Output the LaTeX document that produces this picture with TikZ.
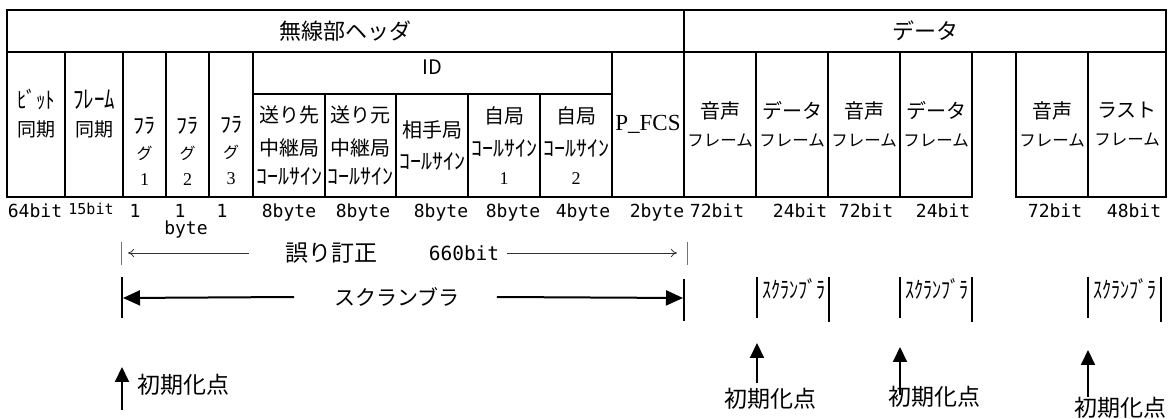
\documentclass[tikz,border=0pt]{standalone}
\usepackage{fontspec}
\setmainfont{Noto Sans CJK JP}
\newfontfamily\romanfont{Liberation Serif}
\newfontfamily\bitfont{DejaVu Sans Mono}
\usetikzlibrary{arrows.meta}
% half-width kana, stretched in height
\newcommand{\narrowkana}[3][1]{\scalebox{1}[#1]{\fontsize{#2}{#2}\selectfont #3}}

\begin{document}
\begin{tikzpicture}[x=1pt, y=-1pt,
  cell/.style={draw, line width=1.6pt, inner sep=0pt, align=center,
    font=\fontsize{20}{28}\selectfont},
  framecell/.style={cell, minimum width=72, minimum height=145,
    font=\fontsize{16.5}{28}\selectfont},
  celltext/.style={inner sep=0pt, align=center},
  sizelabel/.style={inner sep=0pt, anchor=base, font=\bitfont\fontsize{18}{18}\selectfont},
  notetext/.style={inner sep=0pt, font=\fontsize{23}{23}\selectfont},
  smallscr/.style={inner sep=0pt, font=\fontsize{18}{18}\selectfont},
  bar/.style={line width=1.6pt},
  thinbar/.style={line width=1pt, black!55},
  ecarrow/.style={line width=0.8pt, black!80, -{To[length=6pt,width=8pt]}},
  scrarrow/.style={line width=2pt, -{Triangle[length=17pt,width=15pt]}},
  initarrow/.style={line width=2pt, -{Triangle[length=15pt,width=14pt]}}
]
\useasboundingbox (0,0) rectangle (1168,419);

% top row
\node[cell, minimum width=677, minimum height=42, font=\fontsize{22}{22}\selectfont] (radiohdr) at (345.5,31) {無線部ヘッダ};
\node[cell, minimum width=482, minimum height=42, font=\fontsize{22}{22}\selectfont] (datahdr) at (925,31) {データ};

% header fields
\node[cell, minimum width=58, minimum height=145] (bitsync) at (36,124.5) {};
\node[cell, minimum width=58, minimum height=145] (framesync) at (94,124.5) {};
\node[cell, minimum width=43, minimum height=145] (flag1) at (144.5,124.5) {};
\node[cell, minimum width=43, minimum height=145] (flag2) at (187.5,124.5) {};
\node[cell, minimum width=44, minimum height=145] (flag3) at (231,124.5) {};
\node[cell, minimum width=359, minimum height=42] (idhdr) at (432.5,73) {};
\node[cell, minimum width=72, minimum height=103] (dstrep) at (289,145.5) {送り先\\[5pt]中継局\\[1pt]\narrowkana{22}{ｺｰﾙｻｲﾝ}};
\node[cell, minimum width=71, minimum height=103] (srcrep) at (360.5,145.5) {送り元\\[5pt]中継局\\[1pt]\narrowkana{22}{ｺｰﾙｻｲﾝ}};
\node[cell, minimum width=72, minimum height=103] (peer) at (432,145.5) {相手局\\[4pt]\narrowkana{22}{ｺｰﾙｻｲﾝ}};
\node[cell, minimum width=72, minimum height=103] (own1) at (504,145.5) {自局\\[5pt]\narrowkana{22}{ｺｰﾙｻｲﾝ}\\{\romanfont\fontsize{18}{18}\selectfont 1}};
\node[cell, minimum width=72, minimum height=103] (own2) at (576,145.5) {自局\\[5pt]\narrowkana{22}{ｺｰﾙｻｲﾝ}\\{\romanfont\fontsize{18}{18}\selectfont 2}};
\node[cell, minimum width=72, minimum height=145, font=\romanfont\fontsize{23}{23}\selectfont] (pfcs) at (648,124.5) {P\_FCS};

\node[celltext, font=\fontsize{19}{28}\selectfont] (bitsynctxt) at (36,114) {\narrowkana[1.2]{19}{ﾋﾞｯﾄ}\\同期};
\node[celltext, font=\fontsize{19}{28}\selectfont] (framesynctxt) at (94,114) {\narrowkana[1.2]{21}{ﾌﾚｰﾑ}\\同期};
\node[celltext, font=\fontsize{20}{26}\selectfont] (flag1txt) at (144.5,151) {\narrowkana{22}{ﾌﾗ}\\{\fontsize{16}{16}\selectfont グ}\\{\romanfont\fontsize{18}{18}\selectfont 1}};
\node[celltext, font=\fontsize{20}{26}\selectfont] (flag2txt) at (187.5,151) {\narrowkana{22}{ﾌﾗ}\\{\fontsize{16}{16}\selectfont グ}\\{\romanfont\fontsize{18}{18}\selectfont 2}};
\node[celltext, font=\fontsize{20}{26}\selectfont] (flag3txt) at (231,151) {\narrowkana{22}{ﾌﾗ}\\{\fontsize{16}{16}\selectfont グ}\\{\romanfont\fontsize{18}{18}\selectfont 3}};
\node[celltext, font=\fontsize{20}{20}\selectfont] (idtxt) at (432,67) {ID};

% data frames
\node[framecell] (voice1) at (720,124.5) {{\fontsize{20}{28}\selectfont 音声}\\フレーム};
\node[framecell] (data1) at (792,124.5) {{\fontsize{20}{28}\selectfont データ}\\フレーム};
\node[framecell] (voice2) at (864,124.5) {{\fontsize{20}{28}\selectfont 音声}\\フレーム};
\node[framecell] (data2) at (936,124.5) {{\fontsize{20}{28}\selectfont データ}\\フレーム};
\node[framecell] (voice3) at (1052,124.5) {{\fontsize{20}{28}\selectfont 音声}\\フレーム};
\node[framecell, minimum width=78] (lastfr) at (1127,124.5) {{\fontsize{20}{28}\selectfont ラスト}\\フレーム};

% sizes
\node[sizelabel] (sz64) at (35,218) {64bit};
\node[sizelabel, font=\bitfont\fontsize{15}{15}\selectfont] (sz15) at (91,215) {15bit};
\node[sizelabel] (szf1) at (135,218) {1};
\node[sizelabel] (szf2) at (180,218) {1};
\node[sizelabel] (szf3) at (222,218) {1};
\node[sizelabel] (szbyte) at (186,235) {byte};
\node[sizelabel] (szdst) at (289,218) {8byte};
\node[sizelabel] (szsrc) at (363,218) {8byte};
\node[sizelabel] (szpeer) at (441,218) {8byte};
\node[sizelabel] (szown1) at (513,218) {8byte};
\node[sizelabel] (szown2) at (583,218) {4byte};
\node[sizelabel] (szfcs) at (657,218) {2byte};
\node[sizelabel] (szv1) at (717,218) {72bit};
\node[sizelabel] (szd1) at (800,218) {24bit};
\node[sizelabel] (szv2) at (866,218) {72bit};
\node[sizelabel] (szd2) at (943,218) {24bit};
\node[sizelabel] (szv3) at (1055,218) {72bit};
\node[sizelabel] (szlast) at (1134,218) {48bit};

% error correction span
\node[notetext] (ecc) at (331,253) {誤り訂正};
\node[inner sep=0pt, font=\bitfont\fontsize{19.5}{20}\selectfont] (eccbits) at (464,253) {660bit};
\coordinate (eccL) at (121,253);
\coordinate (eccR) at (687,253);
\draw[thinbar] ([yshift=11pt]eccL) -- ([yshift=-12pt]eccL);
\draw[thinbar] ([yshift=11pt]eccR) -- ([yshift=-12pt]eccR);
\draw[ecarrow] ([xshift=-36pt]ecc.west) -- ([xshift=7pt]eccL);
\draw[ecarrow] ([xshift=8pt]eccbits.east) -- ([xshift=-10pt]eccR);

% scrambler span
\node[notetext, font=\fontsize{21}{21}\selectfont] (scr) at (397,297) {スクランブラ};
\coordinate (scrL) at (122,298);
\coordinate (scrR) at (684,298);
\draw[bar] ([yshift=21pt]scrL) -- ([yshift=-20pt]scrL);
\draw[bar] ([yshift=19pt]scrR) -- ([yshift=-23pt]scrR);
\draw[scrarrow] ([xshift=-40pt]scr.west) -- ([xshift=1pt]scrL);
\draw[scrarrow] ([xshift=37pt]scr.east) -- ([xshift=-1pt]scrR);

% per-frame scramblers
\coordinate (scr1L) at (757,298);
\coordinate (scr1R) at (829,298);
\coordinate (scr2L) at (900,298);
\coordinate (scr2R) at (972,298);
\coordinate (scr3L) at (1088,298);
\coordinate (scr3R) at (1161,298);
\draw[bar] ([yshift=21pt]scr1L) -- ([yshift=-20pt]scr1L);
\draw[bar] ([yshift=21pt]scr1R) -- ([yshift=-24pt]scr1R);
\draw[bar] ([yshift=21pt]scr2L) -- ([yshift=-20pt]scr2L);
\draw[bar] ([yshift=21pt]scr2R) -- ([yshift=-24pt]scr2R);
\draw[bar] ([yshift=21pt]scr3L) -- ([yshift=-20pt]scr3L);
\draw[bar] ([yshift=21pt]scr3R) -- ([yshift=-24pt]scr3R);
\node[smallscr] (scr1txt) at (794,289) {\narrowkana[1.3]{18}{ｽｸﾗﾝﾌﾞﾗ}};
\node[smallscr] (scr2txt) at (937,289) {\narrowkana[1.3]{18}{ｽｸﾗﾝﾌﾞﾗ}};
\node[smallscr] (scr3txt) at (1125,289) {\narrowkana[1.3]{18}{ｽｸﾗﾝﾌﾞﾗ}};

% initialisation points
\coordinate (init0) at (122,367);
\coordinate (init1) at (757,343);
\coordinate (init2) at (900,347);
\coordinate (init3) at (1088,350);
\draw[initarrow] ([yshift=-43pt]init0) -- (init0);
\draw[initarrow] ([yshift=-40pt]init1) -- (init1);
\draw[initarrow] ([yshift=-48pt]init2) -- (init2);
\draw[initarrow] ([yshift=-47pt]init3) -- (init3);
\node[notetext, anchor=west] (init0txt) at (137,385) {初期化点};
\node[notetext] (init1txt) at (770,399) {初期化点};
\node[notetext] (init2txt) at (934,397) {初期化点};
\node[notetext] (init3txt) at (1120,408) {初期化点};
\end{tikzpicture}
\end{document}
